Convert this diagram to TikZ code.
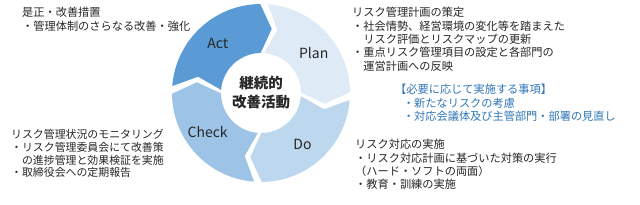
\documentclass[tikz,border=0pt]{standalone}
\usepackage{fontspec}
\setmainfont{Noto Sans CJK JP}
\usetikzlibrary{calc,positioning}
\definecolor{actblue}{RGB}{91,155,213}
\definecolor{planblue}{RGB}{222,235,247}
\definecolor{doblue}{RGB}{189,215,238}
\definecolor{checkblue}{RGB}{157,195,230}
\definecolor{noteblue}{RGB}{46,117,182}
\definecolor{inktext}{RGB}{38,38,38}

\begin{document}
\begin{tikzpicture}[x=1pt, y=1pt,
  seglabel/.style={font=\fontsize{14}{16}\selectfont, text=inktext, inner sep=0pt},
  note/.style={anchor=north west, align=left, inner sep=0pt,
               font=\fontsize{11.2}{13.3}\selectfont, text=inktext},
  center/.style={align=center, inner sep=0pt, text=inktext,
                 font=\fontsize{14.5}{19}\selectfont\bfseries}
]
\useasboundingbox (0,0) rectangle (640,204);
\coordinate (c) at (261,111);

% Cycle segments (outer r 89, inner r 40, tip r 65)
\foreach \s/\col/\lab/\la in {178/actblue/Act/131, 88/planblue/Plan/37,
                              -2/doblue/Do/-51, -92/checkblue/Check/-144} {
  \pgfmathsetmacro\e{\s-90}
  \fill[\col] ($(c)+({\s-2.5}:89)$) arc[start angle=\s-2.5, end angle=\e+2.5, radius=89]
    -- ($(c)+({\e-7.5}:65)$) -- ($(c)+({\e+2.5}:40)$)
    arc[start angle=\e+2.5, end angle=\s-2.5, radius=40]
    -- ($(c)+({\s-12.5}:65)$) -- cycle;
  \node[seglabel] (\lab) at ($(c)+(\la:66)$) {\lab};
}

\node[center] (core) at (c) {継続的\\改善活動};

% Notes
\node[note] (actnote) at (22,196.7) {是正・改善措置\\・管理体制のさらなる改善・強化};
\node[note] (plannote) at (352,196.7) {リスク管理計画の策定\\
  ・社会情勢、経営環境の変化等を踏まえた\\
  \hspace*{1em}リスク評価とリスクマップの更新\\
  ・重点リスク管理項目の設定と各部門の\\
  \hspace*{1em}運営計画への反映};
\node[note, text=noteblue] (extranote) at (395,119.7) {【必要に応じて実施する事項】\\
  \hspace*{0.7em}・新たなリスクの考慮\\
  \hspace*{0.7em}・対応会議体及び主管部門・部署の見直し};
\node[note] (donote) at (355,64.7) {リスク対応の実施\\
  ・リスク対応計画に基づいた対策の実行\\
  （ハード・ソフトの両面）\\
  ・教育・訓練の実施};
\node[note, font=\fontsize{10.9}{12.6}\selectfont] (checknote) at (11,74.5) {リスク管理状況のモニタリング\\
  ・リスク管理委員会にて改善策\\
  \hspace*{1em}の進捗管理と効果検証を実施\\
  ・取締役会への定期報告};
\end{tikzpicture}
\end{document}
